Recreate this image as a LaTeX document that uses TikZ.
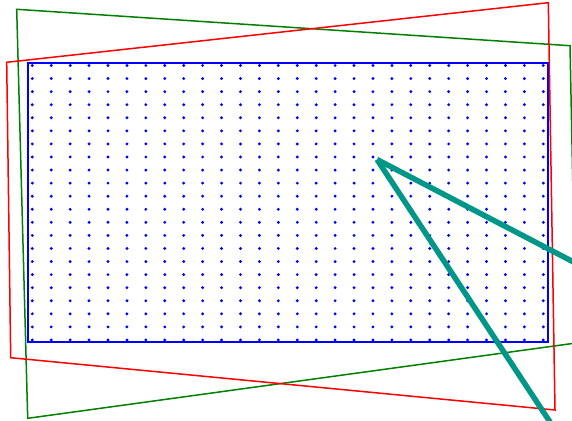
\documentclass[tikz,border=0pt]{standalone}
\definecolor{myteal}{RGB}{0,150,136}
\definecolor{mygreen}{RGB}{0,128,0}
\tikzset{
  quadline/.style={line width=1.5pt, line join=miter},
  gridbox/.style={draw=blue, line width=2pt},
  griddot/.style={fill=blue},
  ray/.style={draw=myteal, line width=5.5pt}
}
\begin{document}
\begin{tikzpicture}[x=1pt,y=-1pt]
\useasboundingbox (0,0) rectangle (572,420);
\clip (0,0) rectangle (572,420);
\draw[quadline, mygreen] (16.7,9.3) -- (570,45.7) -- (576,343) -- (27.7,418.3) -- cycle;
\draw[quadline, red] (6.7,62.3) -- (548.3,2.7) -- (555,410) -- (10.7,357.7) -- cycle;
\draw[gridbox] (27.5,62.5) rectangle (548.3,342);
\foreach \i in {0,...,27}{
  \foreach \j in {0,...,21}{
    \fill[griddot] (32.3+\i*18.926, 65.5+\j*13.07) circle (1.6);
  }
}
\coordinate (apex) at (377,159.5);
\coordinate (endA) at (585,268);
\coordinate (endB) at (552,425);
\draw[ray] (apex) -- (endA);
\draw[ray] (apex) -- (endB);
\end{tikzpicture}
\end{document}
